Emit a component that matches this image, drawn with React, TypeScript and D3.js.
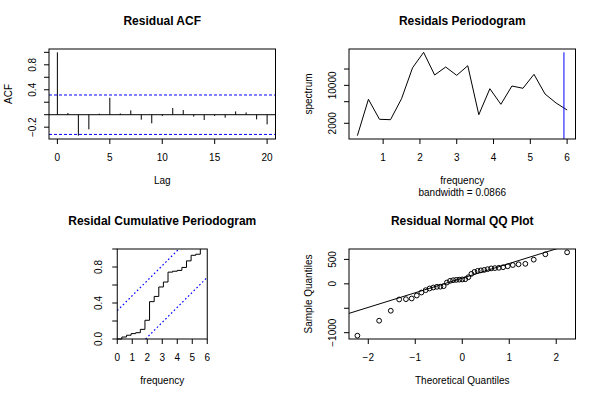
import React from "react";
import * as d3 from "d3";

// ---------- Residual ACF ----------
const acfLags = [0, 1, 2, 3, 4, 5, 6, 7, 8, 9, 10, 11, 12, 13, 14, 15, 16, 17, 18, 19, 20];
const acfValues = [1.0, 0.027, -0.336, -0.235, 0.016, 0.272, 0.02, 0.07, -0.08, -0.139, -0.02, 0.107, 0.075, -0.03, -0.085, -0.02, -0.048, 0.053, 0.037, -0.075, -0.155];
const acfClim = 0.316;
const acfXTicks = [0, 5, 10, 15, 20];
const acfYTicks = [-0.2, 0, 0.2, 0.4, 0.6, 0.8, 1.0];
const acfYLabeled = [-0.2, 0.4, 0.8];

// ---------- Periodogram ----------
const specFreq = [0.3, 0.6, 0.9, 1.2, 1.5, 1.8, 2.1, 2.4, 2.7, 3.0, 3.3, 3.6, 3.9, 4.2, 4.5, 4.8, 5.1, 5.4, 5.7, 6.0];
const specValues = [1183, 5535, 2370, 2330, 5676, 21130, 40600, 15500, 21770, 15300, 23000, 2880, 8670, 4480, 9730, 8830, 15970, 6930, 4730, 3515];
const specBandwidth = 0.0866;
const specCiLower = 280;
const specXTicks = [1, 2, 3, 4, 5, 6];
const specYTicks = [2000, 5000, 10000, 20000];
const specYLabeled = [2000, 10000];

// ---------- Cumulative periodogram ----------
const cpFreq = [0, 0.3077, 0.6154, 0.9231, 1.2308, 1.5385, 1.8462, 2.1538, 2.4615, 2.7692, 3.0769, 3.3846, 3.6923, 4.0, 4.3077, 4.6154, 4.9231, 5.2308, 5.5385];
const cpValues = [0, 0.022, 0.042, 0.06, 0.07, 0.107, 0.208, 0.415, 0.473, 0.578, 0.633, 0.743, 0.753, 0.762, 0.795, 0.868, 0.93, 0.942, 1.0];
const cpCrit = 0.315;
const cpXMax = 6;
const cpXTicks = [0, 1, 2, 3, 4, 5, 6];
const cpYTicks = [0, 0.2, 0.4, 0.6, 0.8, 1.0];
const cpYLabeled = [0, 0.4, 0.8];

// ---------- QQ plot ----------
const qqSample = [-1061, -755, -551, -320, -314, -300, -239, -178, -130, -95, -75, -61, -58, -48, 27, 61, 74, 81, 86, 90, 94, 135, 204, 245, 265, 275, 285, 300, 316, 322, 328, 340, 360, 385, 400, 410, 495, 605, 645];
const qqXTicks = [-2, -1, 0, 1, 2];
const qqYTicks = [-1000, -500, 0, 500];
const qqYLabeled = [-1000, 0, 500];

const FONT = "'Liberation Sans', Arial, Helvetica, sans-serif";
const BLUE = "#0000ff";
const minus = (s: string) => s.replace("-", "\u2212");

function qnorm(p: number): number {
  const a = [-3.969683028665376e1, 2.209460984245205e2, -2.759285104469687e2, 1.38357751867269e2, -3.066479806614716e1, 2.506628277459239];
  const b = [-5.447609879822406e1, 1.615858368580409e2, -1.556989798598866e2, 6.680131188771972e1, -1.328068155288572e1];
  const c = [-7.784894002430293e-3, -3.223964580411365e-1, -2.400758277161838, -2.549732539343734, 4.374664141464968, 2.938163982698783];
  const d = [7.784695709041462e-3, 3.224671290700398e-1, 2.445134137142996, 3.754408661907416];
  const pl = 0.02425;
  if (p < pl) {
    const q = Math.sqrt(-2 * Math.log(p));
    return (((((c[0] * q + c[1]) * q + c[2]) * q + c[3]) * q + c[4]) * q + c[5]) / ((((d[0] * q + d[1]) * q + d[2]) * q + d[3]) * q + 1);
  }
  if (p <= 1 - pl) {
    const q = p - 0.5, r = q * q;
    return ((((((a[0] * r + a[1]) * r + a[2]) * r + a[3]) * r + a[4]) * r + a[5]) * q) / (((((b[0] * r + b[1]) * r + b[2]) * r + b[3]) * r + b[4]) * r + 1);
  }
  const q = Math.sqrt(-2 * Math.log(1 - p));
  return -(((((c[0] * q + c[1]) * q + c[2]) * q + c[3]) * q + c[4]) * q + c[5]) / ((((d[0] * q + d[1]) * q + d[2]) * q + d[3]) * q + 1);
}

function pad(ext: [number, number]): [number, number] {
  const d = (ext[1] - ext[0]) * 0.04;
  return [ext[0] - d, ext[1] + d];
}

// plot region inside each 300x200 cell
const L = 49, R = 275.5, T = 49, B = 139;
const TICK = 5;

type AxisProps = {
  x: any; y: any; xTicks: number[]; yTicks: number[]; yLabeled: number[];
  xFmt: (v: number) => string; yFmt: (v: number) => string;
  left: number; right: number; top: number; bottom: number; yLabelX: number;
};

function Axes(p: AxisProps) {
  return (
    <g fontFamily={FONT} fontSize={10} fill="#000">
      <rect x={p.left} y={p.top} width={p.right - p.left} height={p.bottom - p.top} fill="none" stroke="#000" strokeWidth={1} />
      {p.xTicks.map((t) => (
        <g key={"x" + t}>
          <line x1={p.x(t)} x2={p.x(t)} y1={p.bottom} y2={p.bottom + TICK} stroke="#000" />
          <text x={p.x(t)} y={p.bottom + 22} textAnchor="middle">{p.xFmt(t)}</text>
        </g>
      ))}
      {p.yTicks.map((t) => (
        <line key={"y" + t} x1={p.left - TICK} x2={p.left} y1={p.y(t)} y2={p.y(t)} stroke="#000" />
      ))}
      {p.yLabeled.map((t) => (
        <text key={"yl" + t} transform={`translate(${p.yLabelX},${p.y(t)}) rotate(-90)`} textAnchor="middle">{p.yFmt(t)}</text>
      ))}
    </g>
  );
}

function Title({ text, cx, y }: { text: string; cx: number; y: number }) {
  return <text x={cx} y={y} textAnchor="middle" fontFamily={FONT} fontSize={12} fontWeight="bold">{text}</text>;
}

function AcfPanel() {
  const x = d3.scaleLinear().domain(pad([0, 20])).range([L, R]);
  const yExt = d3.extent([...acfValues, acfClim, -acfClim]) as [number, number];
  const y = d3.scaleLinear().domain(pad(yExt)).range([B, T]);
  return (
    <g>
      <Title text="Residual ACF" cx={(L + R) / 2} y={25} />
      <line x1={L} x2={R} y1={y(0)} y2={y(0)} stroke="#000" />
      {acfLags.map((l, i) => (
        <line key={l} x1={x(l)} x2={x(l)} y1={y(0)} y2={y(acfValues[i])} stroke="#000" />
      ))}
      {[acfClim, -acfClim].map((c) => (
        <line key={c} x1={L} x2={R} y1={y(c)} y2={y(c)} stroke={BLUE} strokeDasharray="3,2" />
      ))}
      <Axes x={x} y={y} xTicks={acfXTicks} yTicks={acfYTicks} yLabeled={acfYLabeled}
        xFmt={(v) => String(v)} yFmt={(v) => minus(d3.format(".1f")(v))}
        left={L} right={R} top={T} bottom={B} yLabelX={36} />
      <text transform={`translate(12,${(T + B) / 2}) rotate(-90)`} textAnchor="middle" fontFamily={FONT} fontSize={10}>ACF</text>
      <text x={(L + R) / 2} y={184} textAnchor="middle" fontFamily={FONT} fontSize={10}>Lag</text>
    </g>
  );
}

function SpecPanel() {
  const x = d3.scaleLinear().domain(pad(d3.extent(specFreq) as [number, number])).range([L, R]);
  const le = d3.extent(specValues.map((v) => Math.log10(v))) as [number, number];
  const lp = pad(le);
  const y = d3.scaleLog().domain([Math.pow(10, lp[0]), Math.pow(10, lp[1])]).range([B, T]);
  const line = d3.line<number>().x((_, i) => x(specFreq[i])).y((v) => y(v));
  const maxSpec = d3.max(specValues) as number;
  const ciX = (d3.max(specFreq) as number) - specBandwidth;
  return (
    <g>
      <defs>
        <clipPath id="specClip"><rect x={L} y={T} width={R - L} height={B - T} /></clipPath>
      </defs>
      <Title text="Residals Periodogram" cx={(L + R) / 2} y={25} />
      <path d={line(specValues) || ""} fill="none" stroke="#000" />
      <g clipPath="url(#specClip)">
        <line x1={x(ciX)} x2={x(ciX)} y1={y(maxSpec)} y2={y(specCiLower)} stroke={BLUE} />
      </g>
      <Axes x={x} y={y} xTicks={specXTicks} yTicks={specYTicks} yLabeled={specYLabeled}
        xFmt={(v) => String(v)} yFmt={(v) => String(v)}
        left={L} right={R} top={T} bottom={B} yLabelX={36} />
      <text transform={`translate(12,${(T + B) / 2}) rotate(-90)`} textAnchor="middle" fontFamily={FONT} fontSize={10}>spectrum</text>
      <text x={(L + R) / 2} y={184} textAnchor="middle" fontFamily={FONT} fontSize={10}>frequency</text>
      <text x={(L + R) / 2} y={196} textAnchor="middle" fontFamily={FONT} fontSize={10}>{`bandwidth = ${specBandwidth}`}</text>
    </g>
  );
}

function CpPanel() {
  const cx = (L + R) / 2;
  const side = B - T;
  const l = cx - side / 2, r = cx + side / 2;
  const x = d3.scaleLinear().domain([0, cpXMax]).range([l, r]);
  const y = d3.scaleLinear().domain([0, 1]).range([B, T]);
  const line = d3.line<number>().x((_, i) => x(cpFreq[i])).y((v) => y(v)).curve(d3.curveStepAfter);
  const ciLines: [number, number, number, number][] = [
    [0, cpCrit, cpXMax * (1 - cpCrit), 1],
    [cpXMax * cpCrit, 0, cpXMax, 1 - cpCrit],
  ];
  return (
    <g>
      <Title text="Residal Cumulative Periodogram" cx={cx} y={25} />
      <path d={line(cpValues) || ""} fill="none" stroke="#000" />
      {ciLines.map((c, i) => (
        <line key={i} x1={x(c[0])} y1={y(c[1])} x2={x(c[2])} y2={y(c[3])}
          stroke={BLUE} strokeWidth={1.2} strokeDasharray="1.6,2.4" />
      ))}
      <Axes x={x} y={y} xTicks={cpXTicks} yTicks={cpYTicks} yLabeled={cpYLabeled}
        xFmt={(v) => String(v)} yFmt={(v) => d3.format(".1f")(v)}
        left={l} right={r} top={T} bottom={B} yLabelX={l - 15} />
      <text x={cx} y={184} textAnchor="middle" fontFamily={FONT} fontSize={10}>frequency</text>
    </g>
  );
}

function QqPanel() {
  const n = qqSample.length;
  const sorted = [...qqSample].sort((a, b) => a - b);
  const theo = sorted.map((_, i) => qnorm((i + 1 - 0.5) / n));
  const x = d3.scaleLinear().domain(pad(d3.extent(theo) as [number, number])).range([L, R]);
  const y = d3.scaleLinear().domain(pad(d3.extent(sorted) as [number, number])).range([B, T]);
  const yq1 = d3.quantileSorted(sorted, 0.25) as number;
  const yq3 = d3.quantileSorted(sorted, 0.75) as number;
  const xq1 = qnorm(0.25), xq3 = qnorm(0.75);
  const slope = (yq3 - yq1) / (xq3 - xq1);
  const icpt = yq1 - slope * xq1;
  const [x0, x1] = x.domain();
  return (
    <g>
      <defs>
        <clipPath id="qqClip"><rect x={L} y={T} width={R - L} height={B - T} /></clipPath>
      </defs>
      <Title text="Residual Normal QQ Plot" cx={(L + R) / 2} y={25} />
      {sorted.map((v, i) => (
        <circle key={i} cx={x(theo[i])} cy={y(v)} r={2.4} fill="none" stroke="#000" />
      ))}
      <g clipPath="url(#qqClip)">
        <line x1={x(x0)} y1={y(icpt + slope * x0)} x2={x(x1)} y2={y(icpt + slope * x1)} stroke="#000" />
      </g>
      <Axes x={x} y={y} xTicks={qqXTicks} yTicks={qqYTicks} yLabeled={qqYLabeled}
        xFmt={(v) => minus(String(v))} yFmt={(v) => minus(String(v))}
        left={L} right={R} top={T} bottom={B} yLabelX={36} />
      <text transform={`translate(12,${(T + B) / 2}) rotate(-90)`} textAnchor="middle" fontFamily={FONT} fontSize={10}>Sample Quantiles</text>
      <text x={(L + R) / 2} y={184} textAnchor="middle" fontFamily={FONT} fontSize={10}>Theoretical Quantiles</text>
    </g>
  );
}

export default function App() {
  return (
    <svg width={600} height={400} style={{ position: "absolute", left: 0, top: 0, background: "#fff" }}>
      <rect x={0} y={0} width={600} height={400} fill="#fff" />
      <g transform="translate(0,0)"><AcfPanel /></g>
      <g transform="translate(300,0)"><SpecPanel /></g>
      <g transform="translate(0,200)"><CpPanel /></g>
      <g transform="translate(300,200)"><QqPanel /></g>
    </svg>
  );
}
